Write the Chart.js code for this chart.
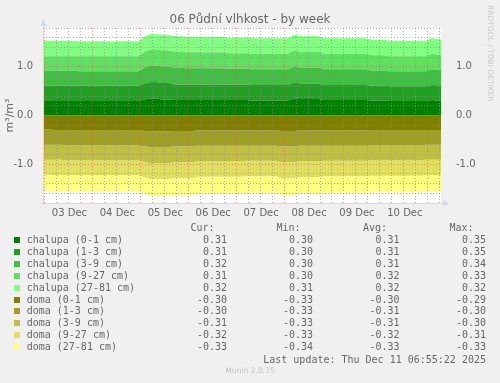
<!DOCTYPE html>
<html>
<head>
<meta charset="utf-8">
<title>06 Půdní vlhkost - by week</title>
<script src="https://cdn.jsdelivr.net/npm/chart.js@4"></script>
<style>
  html, body { margin: 0; padding: 0; background: #f0f0f0; }
  #wrap { position: relative; width: 500px; height: 383px; overflow: hidden; }
  #chart { position: absolute; left: 0; top: 0; }
  #legend { position: absolute; left: 0; top: 0; width: 500px; height: 383px;
            font: 10px 'DejaVu Sans Mono', monospace; color: #666; line-height: 12px; white-space: pre; }
  #legend span { position: absolute; }
  #legend .sq { width: 6px; height: 6px; }
  #legend .foot { font: 7.6px 'DejaVu Sans', sans-serif; color: #c0c0c0; }
</style>
</head>
<body>
<div id="wrap">
  <canvas id="chart" width="500" height="383"></canvas>
  <div id="legend"></div>
</div>
<script>
// samples every 3 hours, first one at 02 Dec 23:00 (hour -1 from 03 Dec 00:00)
const STEP_H = 3;
const FIRST_H = -1;
const dayLabels = ['03 Dec', '04 Dec', '05 Dec', '06 Dec', '07 Dec', '08 Dec', '09 Dec', '10 Dec'];

const chalupa01 = [
  0.30, 0.30, 0.30, 0.30, 0.30, 0.30,
  0.30, 0.30, 0.30, 0.30, 0.30, 0.30, 0.30, 0.30, 0.30, 0.30, 0.30,
  0.33, 0.35, 0.35, 0.33, 0.33, 0.32, 0.32,
  0.32, 0.32, 0.32, 0.32, 0.32, 0.32, 0.32,
  0.32, 0.32, 0.32, 0.32,
  0.31, 0.31, 0.31, 0.31, 0.31, 0.31, 0.31,
  0.35, 0.34, 0.34, 0.34, 0.34,
  0.32, 0.32, 0.32, 0.32, 0.32, 0.32, 0.32, 0.32,
  0.31, 0.31, 0.31,
  0.30, 0.30, 0.30, 0.30, 0.30, 0.30, 0.30,
  0.32, 0.31, 0.31
];
const chalupa13 = [
  0.31, 0.31, 0.31, 0.31, 0.31, 0.31,
  0.31, 0.31, 0.31, 0.31, 0.31, 0.31, 0.31, 0.31, 0.31, 0.31, 0.31,
  0.33, 0.34, 0.34, 0.34, 0.34, 0.32, 0.32,
  0.32, 0.32, 0.32, 0.32, 0.32, 0.32, 0.32,
  0.32, 0.32, 0.32, 0.32,
  0.32, 0.32, 0.32, 0.32, 0.32, 0.32, 0.32,
  0.33, 0.32, 0.32, 0.32, 0.32,
  0.31, 0.31, 0.31, 0.31, 0.31, 0.31, 0.31, 0.31,
  0.30, 0.30, 0.30,
  0.30, 0.30, 0.30, 0.30, 0.30, 0.30, 0.30,
  0.31, 0.31, 0.31
];
const chalupa39 = [
  0.31, 0.31, 0.31, 0.31, 0.31, 0.31,
  0.30, 0.30, 0.30, 0.30, 0.30, 0.30, 0.30, 0.30, 0.30, 0.30, 0.30,
  0.33, 0.34, 0.34, 0.34, 0.34, 0.34, 0.34,
  0.33, 0.33, 0.33, 0.33, 0.33, 0.33, 0.33,
  0.32, 0.32, 0.32, 0.32,
  0.32, 0.32, 0.32, 0.32, 0.32, 0.32, 0.32,
  0.33, 0.33, 0.33, 0.33, 0.33,
  0.32, 0.32, 0.32, 0.32, 0.32, 0.32, 0.32, 0.32,
  0.31, 0.31, 0.31,
  0.31, 0.31, 0.31, 0.31, 0.31, 0.31, 0.31,
  0.32, 0.32, 0.32
];
const chalupa927 = [
  0.30, 0.30, 0.30, 0.30, 0.30, 0.30,
  0.31, 0.31, 0.31, 0.31, 0.31, 0.31, 0.31, 0.31, 0.31, 0.31, 0.31,
  0.32, 0.33, 0.33, 0.33, 0.33, 0.33, 0.33,
  0.33, 0.33, 0.33, 0.33, 0.33, 0.33, 0.33,
  0.32, 0.32, 0.32, 0.32,
  0.32, 0.32, 0.32, 0.32, 0.32, 0.32, 0.32,
  0.33, 0.32, 0.32, 0.32, 0.32,
  0.32, 0.32, 0.32, 0.32, 0.32, 0.32, 0.32, 0.32,
  0.32, 0.32, 0.32,
  0.31, 0.31, 0.31, 0.31, 0.31, 0.31, 0.31,
  0.32, 0.31, 0.31
];
const chalupa2781 = [
  0.32, 0.32, 0.32, 0.32, 0.32, 0.32,
  0.31, 0.31, 0.31, 0.31, 0.31, 0.31, 0.31, 0.31, 0.31, 0.31, 0.31,
  0.31, 0.31, 0.31, 0.32, 0.32, 0.32, 0.32,
  0.32, 0.32, 0.32, 0.32, 0.32, 0.32, 0.32,
  0.32, 0.32, 0.32, 0.32,
  0.32, 0.32, 0.32, 0.32, 0.32, 0.32, 0.32,
  0.32, 0.32, 0.32, 0.32, 0.32,
  0.32, 0.32, 0.32, 0.32, 0.32, 0.32, 0.32, 0.32,
  0.32, 0.32, 0.32,
  0.32, 0.32, 0.32, 0.32, 0.32, 0.32, 0.32,
  0.32, 0.32, 0.32
];

const doma01 = [
  -0.29, -0.29, -0.30, -0.30,
  -0.30, -0.30, -0.30, -0.30, -0.30, -0.30, -0.30, -0.30, -0.30, -0.30, -0.30, -0.30, -0.30,
  -0.32, -0.33, -0.33, -0.33, -0.33,
  -0.32, -0.32, -0.32, -0.32,
  -0.31, -0.31, -0.31, -0.31, -0.31, -0.31, -0.31, -0.31,
  -0.31, -0.31, -0.31, -0.31, -0.31, -0.31,
  -0.32, -0.32, -0.32,
  -0.31, -0.31, -0.31, -0.31,
  -0.31, -0.31, -0.31, -0.31, -0.31, -0.31, -0.31, -0.31,
  -0.30, -0.30, -0.30, -0.30, -0.30, -0.30, -0.30, -0.30, -0.30,
  -0.30, -0.30, -0.30, -0.30
];
const doma13 = [
  -0.31, -0.31, -0.30, -0.30,
  -0.31, -0.31, -0.31, -0.31, -0.31, -0.31, -0.31, -0.31, -0.31, -0.31, -0.31, -0.31, -0.31,
  -0.31, -0.32, -0.32, -0.32, -0.32,
  -0.32, -0.32, -0.32, -0.32,
  -0.31, -0.31, -0.31, -0.31, -0.31, -0.31, -0.31, -0.31,
  -0.31, -0.31, -0.31, -0.31, -0.31, -0.31,
  -0.32, -0.32, -0.32,
  -0.31, -0.31, -0.31, -0.31,
  -0.31, -0.31, -0.31, -0.31, -0.31, -0.31, -0.31, -0.31,
  -0.31, -0.31, -0.31, -0.31, -0.31, -0.31, -0.31, -0.31, -0.31,
  -0.30, -0.30, -0.30, -0.30
];
const doma39 = [
  -0.31, -0.31, -0.31, -0.31,
  -0.31, -0.31, -0.31, -0.31, -0.31, -0.31, -0.31, -0.31, -0.31, -0.31, -0.31, -0.31, -0.31,
  -0.32, -0.33, -0.33, -0.33, -0.33,
  -0.32, -0.32, -0.32, -0.32,
  -0.32, -0.32, -0.32, -0.32, -0.32, -0.32, -0.32, -0.32,
  -0.31, -0.31, -0.31, -0.31, -0.31, -0.31,
  -0.32, -0.32, -0.32,
  -0.32, -0.32, -0.32, -0.32,
  -0.31, -0.31, -0.31, -0.31, -0.31, -0.31, -0.31, -0.31,
  -0.31, -0.31, -0.31, -0.31, -0.31, -0.31, -0.31, -0.31, -0.31,
  -0.31, -0.31, -0.31, -0.31
];
const doma927 = [
  -0.31, -0.31, -0.32, -0.32,
  -0.31, -0.31, -0.31, -0.31, -0.31, -0.31, -0.31, -0.31, -0.31, -0.31, -0.31, -0.31, -0.31,
  -0.32, -0.33, -0.33, -0.33, -0.33,
  -0.33, -0.33, -0.33, -0.33,
  -0.32, -0.32, -0.32, -0.32, -0.32, -0.32, -0.32, -0.32,
  -0.32, -0.32, -0.32, -0.32, -0.32, -0.32,
  -0.33, -0.33, -0.33,
  -0.33, -0.33, -0.33, -0.33,
  -0.32, -0.32, -0.32, -0.32, -0.32, -0.32, -0.32, -0.32,
  -0.32, -0.32, -0.32, -0.32, -0.32, -0.32, -0.32, -0.32, -0.32,
  -0.32, -0.32, -0.32, -0.32
];
const doma2781 = [
  -0.33, -0.33, -0.34, -0.34,
  -0.33, -0.33, -0.33, -0.33, -0.33, -0.33, -0.33, -0.33, -0.33, -0.33, -0.33, -0.33, -0.33,
  -0.33, -0.34, -0.34, -0.34, -0.34,
  -0.34, -0.34, -0.34, -0.34,
  -0.34, -0.34, -0.34, -0.34, -0.34, -0.34, -0.34, -0.34,
  -0.34, -0.34, -0.34, -0.34, -0.34, -0.34,
  -0.34, -0.34, -0.34,
  -0.34, -0.34, -0.34, -0.34,
  -0.34, -0.34, -0.34, -0.34, -0.34, -0.34, -0.34, -0.34,
  -0.34, -0.34, -0.34, -0.34, -0.34, -0.34, -0.34, -0.34, -0.34,
  -0.33, -0.33, -0.33, -0.33
];

const seriesNames = [
  'chalupa (0-1 cm)', 'chalupa (1-3 cm)', 'chalupa (3-9 cm)', 'chalupa (9-27 cm)', 'chalupa (27-81 cm)',
  'doma (0-1 cm)', 'doma (1-3 cm)', 'doma (3-9 cm)', 'doma (9-27 cm)', 'doma (27-81 cm)'
];
const curVals = [0.31, 0.31, 0.32, 0.31, 0.32, -0.30, -0.30, -0.31, -0.32, -0.33];
const minVals = [0.30, 0.30, 0.30, 0.30, 0.31, -0.33, -0.33, -0.33, -0.33, -0.34];
const avgVals = [0.31, 0.31, 0.31, 0.32, 0.32, -0.30, -0.31, -0.31, -0.32, -0.33];
const maxVals = [0.35, 0.35, 0.34, 0.33, 0.32, -0.29, -0.30, -0.30, -0.31, -0.33];
const lastUpdate = 'Last update: Thu Dec 11 06:55:22 2025';

const series = [chalupa01, chalupa13, chalupa39, chalupa927, chalupa2781,
                doma01, doma13, doma39, doma927, doma2781];
const colors = ['#008000', '#20a020', '#40c040', '#60e060', '#80ff80',
                '#808000', '#a0a020', '#c0c040', '#e0e060', '#ffff80'];

const hours = chalupa01.map((_, i) => FIRST_H + i * STEP_H);
const FONT = "'DejaVu Sans', sans-serif";
const TEXT = '#666666';
const GRID = 'rgba(143, 143, 143, 0.75)';
const MGRID = 'rgba(222, 79, 79, 0.6)';

const datasets = series.map((vals, i) => ({
    label: seriesNames[i],
    data: vals.map((v, j) => ({ x: hours[j], y: v })),
    stack: i < 5 ? 'chalupa' : 'doma',
    backgroundColor: colors[i],
    borderColor: 'rgba(0,0,0,0)',
    borderWidth: 0,
    pointRadius: 0,
    tension: 0,
    fill: (i === 0 || i === 5) ? 'origin' : '-1'
}));

const frame = {
    id: 'frame',
    beforeDraw(chart) {
        const { ctx, chartArea: a } = chart;
        ctx.save();
        ctx.fillStyle = '#ffffff';
        ctx.fillRect(a.left, a.top, a.right - a.left, a.bottom - a.top);
        ctx.restore();
    },
    afterDraw(chart) {
        const { ctx, chartArea: a } = chart;
        ctx.save();
        ctx.strokeStyle = '#cfd6f8';
        ctx.fillStyle = '#cfd6f8';
        ctx.lineWidth = 1;
        ctx.beginPath();
        ctx.moveTo(a.left + 0.5, a.bottom + 2);
        ctx.lineTo(a.left + 0.5, a.top - 3);
        ctx.moveTo(a.left - 2, a.bottom + 0.5);
        ctx.lineTo(a.right + 4, a.bottom + 0.5);
        ctx.stroke();
        ctx.beginPath();
        ctx.moveTo(a.left + 0.5, a.top - 9);
        ctx.lineTo(a.left - 2.5, a.top - 2);
        ctx.lineTo(a.left + 3.5, a.top - 2);
        ctx.closePath();
        ctx.fill();
        ctx.beginPath();
        ctx.moveTo(a.right + 8, a.bottom + 0.5);
        ctx.lineTo(a.right + 2, a.bottom - 2.5);
        ctx.lineTo(a.right + 2, a.bottom + 3.5);
        ctx.closePath();
        ctx.fill();
        ctx.translate(490, 5);
        ctx.rotate(Math.PI / 2);
        ctx.fillStyle = '#c8c8c8';
        ctx.font = "7.5px 'DejaVu Sans'";
        ctx.textBaseline = 'middle';
        ctx.fillText('RRDTOOL / TOBI OETIKER', 0, 0);
        ctx.restore();
    }
};

function valueTicks(scale) {
    scale.ticks = [];
    for (let k = -9; k <= 9; k++) scale.ticks.push({ value: k / 5 });
}
function valueLabel(v) {
    return Number.isInteger(v) ? v.toFixed(1) : '';
}

new Chart(document.getElementById('chart'), {
    type: 'line',
    data: { datasets },
    plugins: [frame],
    options: {
        responsive: false,
        animation: false,
        events: [],
        layout: { padding: { left: 0, right: 0, top: 0, bottom: 160 } },
        plugins: {
            legend: { display: false },
            tooltip: { enabled: false },
            title: {
                display: true,
                text: '06 Půdní vlhkost - by week',
                color: TEXT,
                font: { family: FONT, size: 12, weight: 'normal', lineHeight: 1.2 },
                padding: { top: 12.6, bottom: 1 }
            }
        },
        scales: {
            x: {
                type: 'linear',
                min: -0.75,
                max: 198.6,
                afterBuildTicks(scale) {
                    scale.ticks = [];
                    for (let h = 0; h <= 198; h += 6) scale.ticks.push({ value: h });
                },
                afterFit(scale) { scale.height = 20; },
                border: { display: false, dash: [1, 2] },
                grid: {
                    z: 1,
                    drawTicks: false,
                    color: (c) => (c.tick && c.tick.value % 24 === 0) ? MGRID : GRID
                },
                ticks: {
                    autoSkip: false,
                    maxRotation: 0,
                    minRotation: 0,
                    padding: 4,
                    labelOffset: 1,
                    color: TEXT,
                    font: { family: FONT, size: 10 },
                    callback: (v) => (v % 24 === 12) ? dayLabels[(v - 12) / 24] : ''
                }
            },
            y: {
                position: 'left',
                stacked: true,
                min: -1.8,
                max: 1.8,
                afterBuildTicks: valueTicks,
                afterFit(scale) { scale.width = 43; },
                border: { display: false, dash: [1, 2] },
                grid: {
                    z: 1,
                    drawTicks: false,
                    color: (c) => (c.tick && Number.isInteger(c.tick.value)) ? MGRID : GRID
                },
                title: {
                    display: true,
                    text: 'm³/m³',
                    color: TEXT,
                    font: { family: FONT, size: 11 },
                    padding: { top: 4, bottom: 0 }
                },
                ticks: {
                    autoSkip: false,
                    padding: 10,
                    color: TEXT,
                    font: { family: FONT, size: 10 },
                    callback: valueLabel
                }
            },
            y2: {
                position: 'right',
                min: -1.8,
                max: 1.8,
                afterBuildTicks: valueTicks,
                afterFit(scale) { scale.width = 59; },
                border: { display: false },
                grid: { display: false, drawTicks: false },
                ticks: {
                    autoSkip: false,
                    padding: 15,
                    color: TEXT,
                    font: { family: FONT, size: 10 },
                    callback: valueLabel
                }
            }
        }
    }
});

// text legend below the graph
const legendEl = document.getElementById('legend');
function place(text, x, y, align, cls) {
    const s = document.createElement('span');
    s.textContent = text;
    s.style.top = (y - 6) + 'px';
    if (align === 'right') s.style.right = (500 - x) + 'px';
    else if (align === 'center') { s.style.left = '0px'; s.style.width = '500px'; s.style.textAlign = 'center'; }
    else s.style.left = x + 'px';
    if (cls) s.className = cls;
    legendEl.appendChild(s);
    return s;
}
const colRight = [227, 313, 399.5, 486];
['Cur:', 'Min:', 'Avg:', 'Max:'].forEach((h, i) => place(h, colRight[i] - 12.5, 227.7, 'right'));
seriesNames.forEach((name, i) => {
    const y = 240 + i * 11.9;
    const sq = place('', 14, y, 'left', 'sq');
    sq.style.top = (y - 3) + 'px';
    sq.style.background = colors[i];
    place(name, 26.7, y);
    [curVals, minVals, avgVals, maxVals].forEach((arr, c) => place(arr[i].toFixed(2), colRight[c], y, 'right'));
});
place(lastUpdate, 486, 359.7, 'right');
place('Munin 2.0.75', 250, 372, 'center', 'foot');
</script>
</body>
</html>
